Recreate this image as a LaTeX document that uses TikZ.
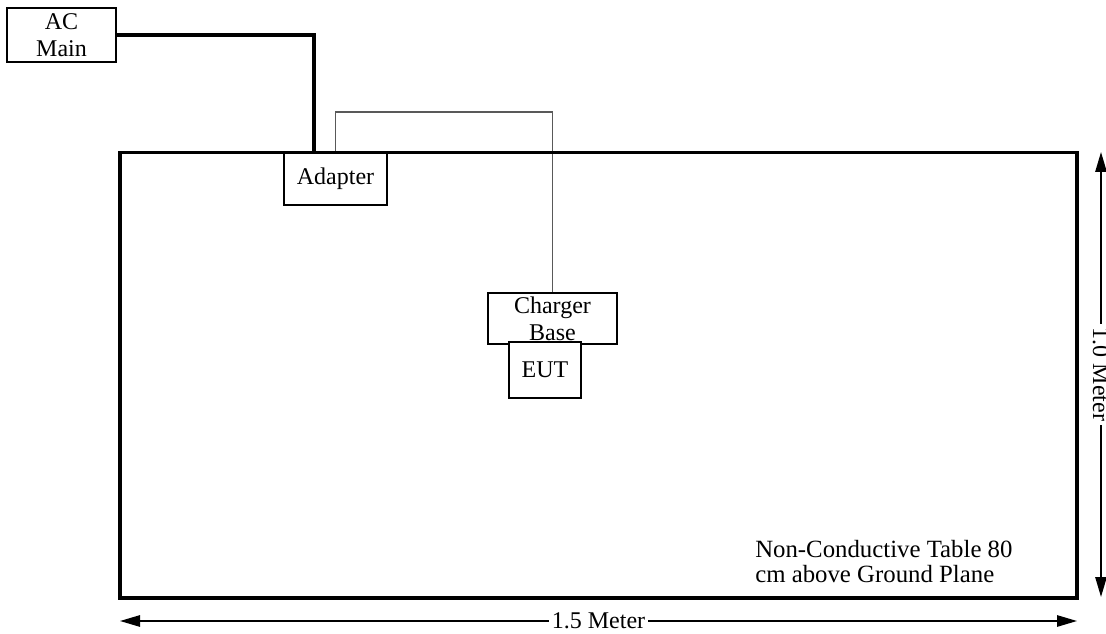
\documentclass[tikz,border=0pt]{standalone}
\usepackage{fontspec}
\setmainfont{Liberation Serif}
\usetikzlibrary{arrows.meta}
\begin{document}
\begin{tikzpicture}[x=0.75pt,y=-0.75pt,
  txt/.style={font=\fontsize{18}{20.25}\selectfont, align=center, inner sep=0pt},
  boxnode/.style={txt, draw, line width=1.2pt, fill=white},
  thickwire/.style={line width=2.4pt},
  thinwire/.style={line width=0.8pt, black!65},
  dimline/.style={line width=1.3pt, {Triangle[length=15pt,width=8.5pt]}-{Triangle[length=15pt,width=8.5pt]}},
  dimlabel/.style={txt, fill=white, inner xsep=2pt, inner ysep=0pt}]
\useasboundingbox (0,0) rectangle (1106,634);

% table
\draw[line width=2.3pt] (120,152.5) rectangle (1077,598);

% boxes
\node[boxnode, minimum width=81.75pt, minimum height=40.5pt] (ac) at (61.5,35) {AC\\Main};
\node[boxnode, minimum width=77.25pt, minimum height=39pt] (adapter) at (335.5,179) {Adapter};
\node[boxnode, minimum width=96.75pt, minimum height=38.25pt] (charger) at (552.5,318.5) {Charger\\Base};
\node[boxnode, minimum width=54pt, minimum height=42pt] (eut) at (545,370) {EUT};

% wires
\coordinate (drop) at (314,152);
\coordinate (wtop) at (335.5,112);
\draw[thickwire] (ac.east) -| (drop);
\draw[thinwire] (adapter.north) -- (wtop) -| (charger.north);
\draw[line width=2.3pt] (120,152.5) -- (1077,152.5);

% note
\node[txt, font=\fontsize{18.6}{18.75}\selectfont, align=left, anchor=north west] (note) at (755,540.5)
  {Non-Conductive Table 80\\cm above Ground Plane};

% dimensions
\coordinate (hl) at (120,621);
\coordinate (hr) at (1077,621);
\draw[dimline] (hl) -- node[dimlabel] (hlab) {1.5 Meter} (hr);
\coordinate (vt) at (1101,152);
\coordinate (vb) at (1101,597);
\draw[dimline] (vt) -- node[dimlabel, rotate=-90, inner xsep=3pt] (vlab) {1.0 Meter} (vb);
\end{tikzpicture}
\end{document}
